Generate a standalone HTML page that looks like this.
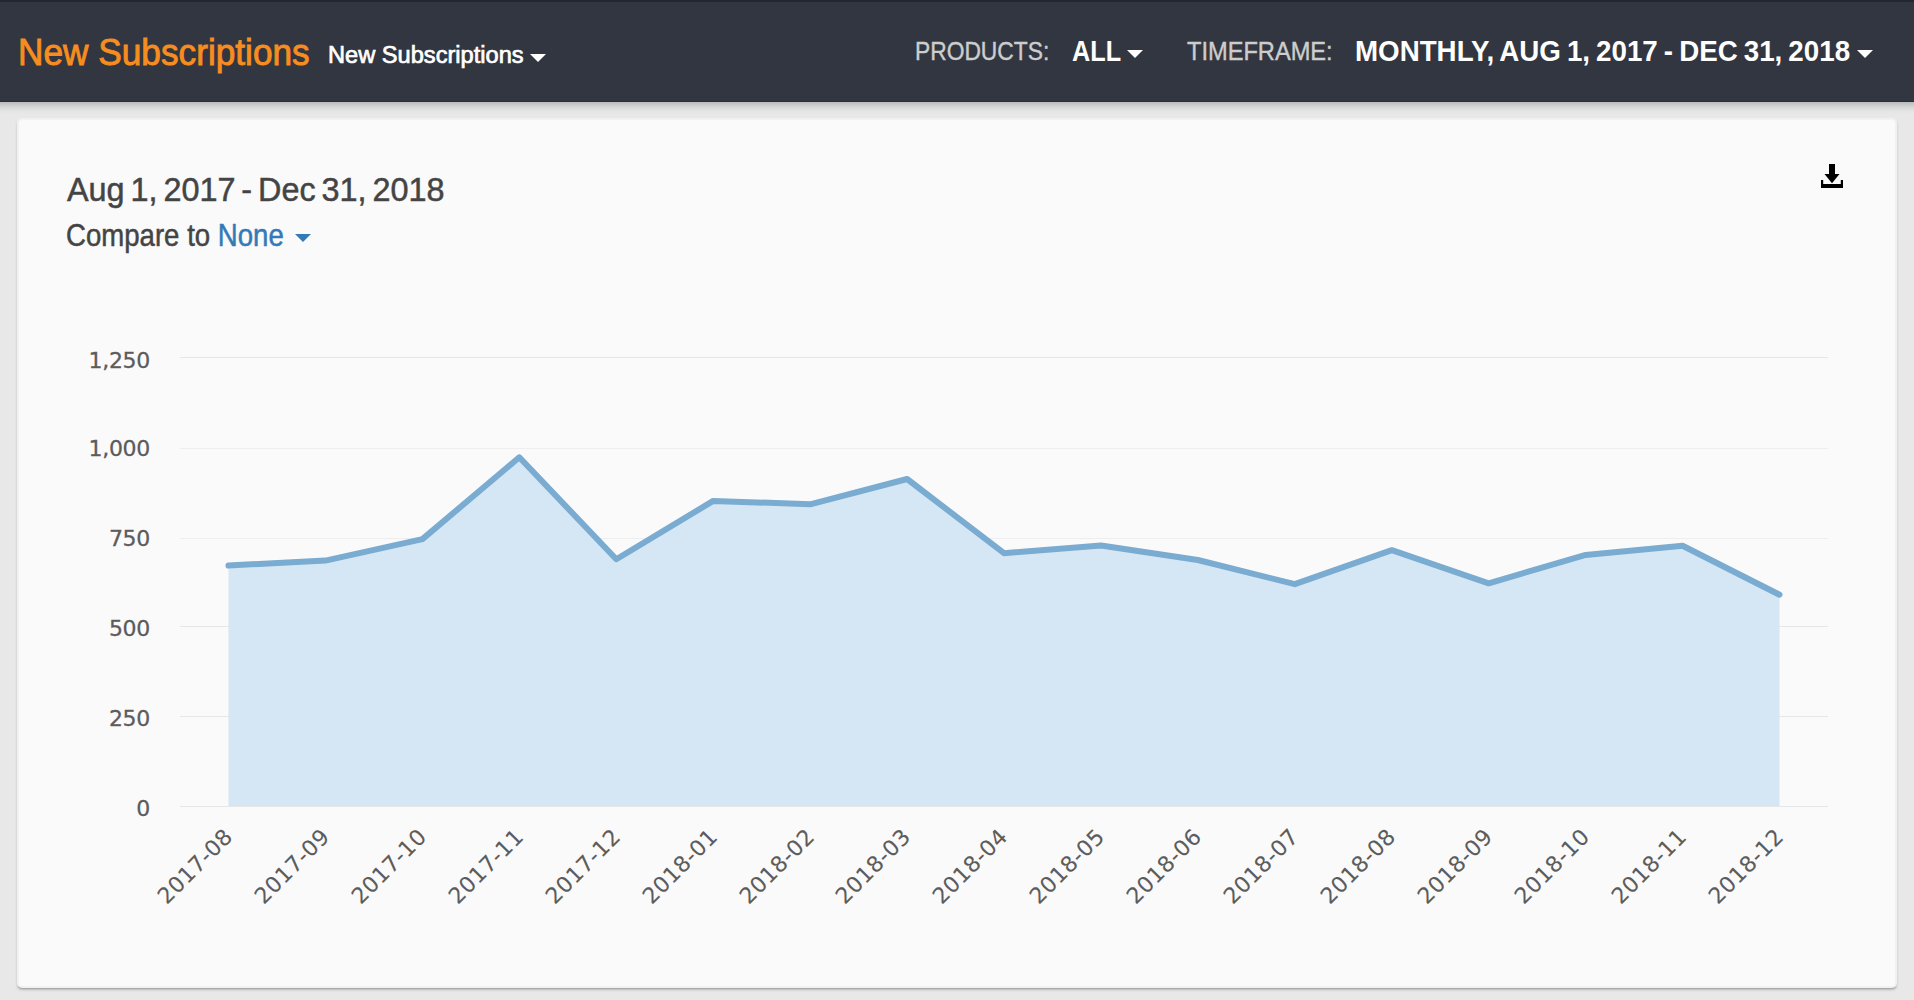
<!DOCTYPE html>
<html lang="en">
<head>
<meta charset="utf-8">
<title>New Subscriptions</title>
<style>
html,body{margin:0;padding:0;}
body{width:1914px;height:1000px;overflow:hidden;background:#e8e8e8;font-family:"Liberation Sans",sans-serif;position:relative;}
.t{position:absolute;transform-origin:0 0;white-space:nowrap;line-height:1;margin:0;padding:0;}
#hdr{position:absolute;left:-30px;top:0;width:1974px;height:102px;background:#323641;border-top:2px solid #222630;border-bottom:1px solid #2b2e3a;box-sizing:border-box;box-shadow:0 3px 8px rgba(0,0,0,.25);}
#card{position:absolute;left:17px;top:118px;width:1880px;height:870px;box-sizing:border-box;background:#fafafa;border:2px solid #f1f1f1;border-radius:5px;box-shadow:0 2px 3px -1px rgba(0,0,0,.42);}
.caret{position:absolute;width:0;height:0;border-left:8px solid transparent;border-right:8px solid transparent;border-top:8px solid #fff;}
#title{left:18px;top:34.2px;font-size:37px;color:#f78d1e;-webkit-text-stroke:.9px #f78d1e;transform:scaleX(.952);}
#sub{left:328px;top:43.6px;font-size:23.5px;color:#fff;-webkit-text-stroke:.7px #fff;transform:scaleX(1.005);}
#prod{left:915px;top:39px;font-size:25px;color:#cdcdcd;-webkit-text-stroke:.4px #cdcdcd;transform:scaleX(.912);}
#all{left:1072px;top:36.9px;font-size:29px;color:#fff;font-weight:bold;transform:scaleX(.87);}
#tf{left:1187px;top:39px;font-size:25px;color:#cdcdcd;-webkit-text-stroke:.4px #cdcdcd;transform:scaleX(.945);}
#range{left:1355px;top:36.9px;font-size:29px;color:#fff;font-weight:bold;word-spacing:-1.7px;transform:scaleX(.956);}
#date{left:67px;top:172.85px;font-size:33.5px;color:#444;-webkit-text-stroke:.5px #444;word-spacing:-3.2px;transform:scaleX(.9665);}
#cmp{left:66px;top:219.8px;font-size:30.5px;color:#444;-webkit-text-stroke:.5px #444;transform:scaleX(.9045);}
#cmp b{font-weight:normal;color:#337ab7;-webkit-text-stroke:.5px #337ab7;}
#chart{position:absolute;left:0;top:0;}
#chart text{font-family:"DejaVu Sans","Liberation Sans",sans-serif;font-size:22px;fill:#5c5c5c;stroke:#5c5c5c;stroke-width:.3px;}
#ylab text{letter-spacing:-.3px;}
#xlab text{letter-spacing:.45px;stroke-width:.1px;}
</style>
</head>
<body>
<div id="hdr"></div>
<div id="title" class="t">New Subscriptions</div>
<div id="sub" class="t">New Subscriptions</div>
<div class="caret" style="left:529.5px;top:54px"></div>
<div id="prod" class="t">PRODUCTS:</div>
<div id="all" class="t">ALL</div>
<div class="caret" style="left:1127px;top:50px"></div>
<div id="tf" class="t">TIMEFRAME:</div>
<div id="range" class="t">MONTHLY, AUG 1, 2017 - DEC 31, 2018</div>
<div class="caret" style="left:1856.5px;top:50px"></div>

<div id="card"></div>
<div id="date" class="t">Aug 1, 2017 - Dec 31, 2018</div>
<div id="cmp" class="t">Compare to <b>None</b></div>
<div class="caret" style="left:294.5px;top:234px;border-top-color:#337ab7"></div>

<svg id="dl" style="position:absolute;left:1820px;top:163px" width="24" height="26" viewBox="0 0 24 26">
  <path d="M9 1 H15 V11 H19.5 L12 20.3 L4.5 11 H9 Z" fill="#000"/>
  <path d="M1 17 H3.2 V21 H20.8 V17 H23 V25 H1 Z" fill="#000"/>
</svg>

<svg id="chart" width="1914" height="1000" viewBox="0 0 1914 1000">
  <g id="grid" stroke="#e7e7e7" stroke-width="1" shape-rendering="crispEdges">
    <line x1="180" x2="1828" y1="357.5" y2="357.5"/>
    <line x1="180" x2="1828" y1="448.5" y2="448.5" stroke="#eeeeee"/>
    <line x1="180" x2="1828" y1="538.5" y2="538.5" stroke="#eeeeee"/>
    <line x1="180" x2="1828" y1="626.5" y2="626.5"/>
    <line x1="180" x2="1828" y1="716.5" y2="716.5"/>
    <line x1="180" x2="1828" y1="806.5" y2="806.5"/>
  </g>
  <path id="area" fill="#d5e6f4" d="M228.5 565.5 L325.4 560.6 L422.4 539.1 L519.3 457.3 L616.3 559.2 L713.2 500.9 L810.1 504.3 L907.1 479 L1004 553.2 L1101 545.5 L1197.9 560 L1294.8 584.2 L1391.8 550.2 L1488.7 583.3 L1585.7 554.9 L1682.6 545.8 L1779.5 594.7 L1779.5 806 L228.5 806 Z"/>
  <path id="line" fill="none" stroke="#7aabd0" stroke-width="6" stroke-linejoin="round" stroke-linecap="round" d="M228.5 565.5 L325.4 560.6 L422.4 539.1 L519.3 457.3 L616.3 559.2 L713.2 500.9 L810.1 504.3 L907.1 479 L1004 553.2 L1101 545.5 L1197.9 560 L1294.8 584.2 L1391.8 550.2 L1488.7 583.3 L1585.7 554.9 L1682.6 545.8 L1779.5 594.7"/>
  <g id="ylab" text-anchor="end">
    <text x="150" y="368">1,250</text>
    <text x="150" y="456">1,000</text>
    <text x="150" y="546">750</text>
    <text x="150" y="636">500</text>
    <text x="150" y="726">250</text>
    <text x="150" y="816">0</text>
  </g>
  <g id="xlab" text-anchor="end">
    <text transform="translate(234,838) rotate(-45)">2017-08</text>
    <text transform="translate(331,838) rotate(-45)">2017-09</text>
    <text transform="translate(428,838) rotate(-45)">2017-10</text>
    <text transform="translate(525,838) rotate(-45)">2017-11</text>
    <text transform="translate(622,838) rotate(-45)">2017-12</text>
    <text transform="translate(719,838) rotate(-45)">2018-01</text>
    <text transform="translate(816,838) rotate(-45)">2018-02</text>
    <text transform="translate(912,838) rotate(-45)">2018-03</text>
    <text transform="translate(1009,838) rotate(-45)">2018-04</text>
    <text transform="translate(1106,838) rotate(-45)">2018-05</text>
    <text transform="translate(1203,838) rotate(-45)">2018-06</text>
    <text transform="translate(1300,838) rotate(-45)">2018-07</text>
    <text transform="translate(1397,838) rotate(-45)">2018-08</text>
    <text transform="translate(1494,838) rotate(-45)">2018-09</text>
    <text transform="translate(1591,838) rotate(-45)">2018-10</text>
    <text transform="translate(1688,838) rotate(-45)">2018-11</text>
    <text transform="translate(1785,838) rotate(-45)">2018-12</text>
  </g>
</svg>
</body>
</html>
